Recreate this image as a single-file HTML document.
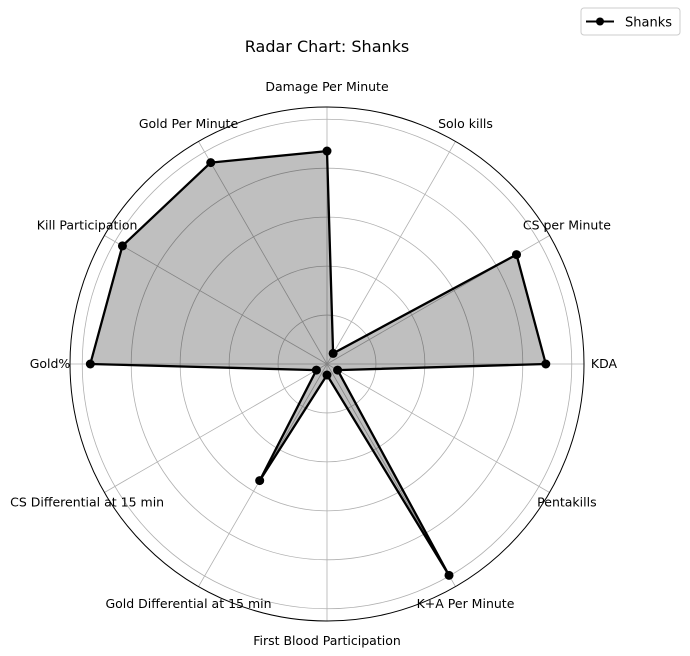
<!DOCTYPE html>
<html><head><meta charset="utf-8"><style>
body{margin:0;background:#fff;font-family:"Liberation Sans","DejaVu Sans",sans-serif;}
svg{display:block}
</style></head><body>
<svg id="chart" width="690" height="656" font-family="DejaVu Sans, Liberation Sans, sans-serif">
<text x="327" y="52" text-anchor="middle" font-size="16">Radar Chart: Shanks</text>
<g>
<rect x="581" y="8" width="99" height="27" rx="3" fill="#fff" stroke="#ccc"/>
<line x1="586" y1="21.5" x2="614" y2="21.5" stroke="#000" stroke-width="2"/>
<circle cx="600" cy="21.5" r="4" fill="#000"/>
<text x="625" y="26.5" font-size="13">Shanks</text>
</g>
<g id="grid"></g><g id="series"></g><g id="labels"></g>
</svg>
<script>
const categories=["KDA","CS per Minute","Solo kills","Damage Per Minute","Gold Per Minute","Kill Participation","Gold%","CS Differential at 15 min","Gold Differential at 15 min","First Blood Participation","K+A Per Minute","Pentakills"];
const values=[0.894,0.894,0.05,0.87,0.95,0.965,0.967,0.05,0.55,0.045,0.997,0.05];
const ringTicks=[0.2,0.4,0.6,0.8,1.0];
const rMaxVal=1.05;
const cx=327,cy=364,R=257;
const ns="http://www.w3.org/2000/svg";
function rScale(v){return v/rMaxVal*R;}
function ang(i){return i*2*Math.PI/categories.length;}
function pt(i,v){const a=ang(i),r=rScale(v);return [cx+r*Math.cos(a),cy-r*Math.sin(a)];}
function mk(tag,attrs,parent){const e=document.createElementNS(ns,tag);for(const k in attrs)e.setAttribute(k,attrs[k]);parent.appendChild(e);return e;}
const grid=document.getElementById('grid');
ringTicks.forEach(t=>{const c=mk('circle',{cx:cx,cy:cy,r:rScale(t),fill:'none',stroke:'#b0b0b0','stroke-width':0.8},grid);

});
categories.forEach((c,i)=>{const [x,y]=pt(i,rMaxVal);const l=mk('line',{x1:cx,y1:cy,x2:x,y2:y,stroke:'#b0b0b0','stroke-width':0.8},grid);

});
const oc=mk('circle',{cx:cx,cy:cy,r:R,fill:'none',stroke:'#000','stroke-width':1},grid);


const s=document.getElementById('series');
const pts=values.map((v,i)=>pt(i,v));
const d=pts.map((p,i)=>(i?'L':'M')+p[0].toFixed(1)+' '+p[1].toFixed(1)).join(' ')+' Z';
const area=mk('path',{d:d,fill:'rgba(0,0,0,0.25)',stroke:'none'},s);


const line=mk('path',{d:d,fill:'none',stroke:'#000','stroke-width':2.3,'stroke-linejoin':'round'},s);


pts.forEach(p=>{const m=mk('circle',{cx:p[0],cy:p[1],r:4.5,fill:'#000'},s);

});
const lab=document.getElementById('labels');
categories.forEach((c,i)=>{const a=ang(i),r=277;const x=cx+r*Math.cos(a),y=cy-r*Math.sin(a);
const t=mk('text',{x:x,y:y+4,'text-anchor':'middle','font-size':12.5},lab);t.textContent=c;

});
</script>
</body></html>
